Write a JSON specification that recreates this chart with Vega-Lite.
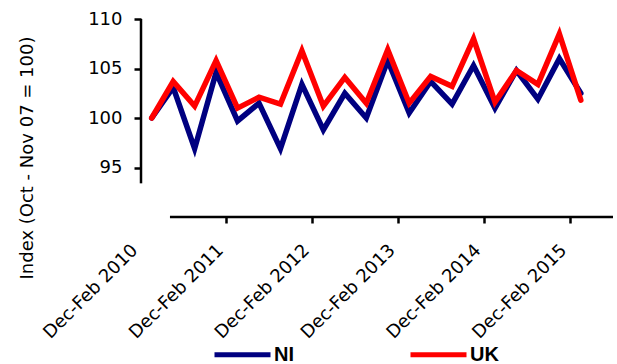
{
  "$schema": "https://vega.github.io/schema/vega-lite/v6.json",
  "width": 472,
  "height": 198,
  "autosize": {"type": "none"},
  "padding": {"left": 141, "top": 19, "right": 4, "bottom": 147},
  "background": "white",
  "config": {"view": {"stroke": null}, "font": "DejaVu Sans"},
  "layer": [
    {
      "data": {
        "values": [
          {"period": "Dec-Feb 2010", "region": "NI", "index": 100.0},
          {"period": "Mar-May 2010", "region": "NI", "index": 103.1},
          {"period": "Jun-Aug 2010", "region": "NI", "index": 96.9},
          {"period": "Sep-Nov 2010", "region": "NI", "index": 104.6},
          {"period": "Dec-Feb 2011", "region": "NI", "index": 99.7},
          {"period": "Mar-May 2011", "region": "NI", "index": 101.5},
          {"period": "Jun-Aug 2011", "region": "NI", "index": 96.9},
          {"period": "Sep-Nov 2011", "region": "NI", "index": 103.4},
          {"period": "Dec-Feb 2012", "region": "NI", "index": 98.8},
          {"period": "Mar-May 2012", "region": "NI", "index": 102.5},
          {"period": "Jun-Aug 2012", "region": "NI", "index": 100.0},
          {"period": "Sep-Nov 2012", "region": "NI", "index": 105.8},
          {"period": "Dec-Feb 2013", "region": "NI", "index": 100.5},
          {"period": "Mar-May 2013", "region": "NI", "index": 103.7},
          {"period": "Jun-Aug 2013", "region": "NI", "index": 101.4},
          {"period": "Sep-Nov 2013", "region": "NI", "index": 105.3},
          {"period": "Dec-Feb 2014", "region": "NI", "index": 101.0},
          {"period": "Mar-May 2014", "region": "NI", "index": 104.8},
          {"period": "Jun-Aug 2014", "region": "NI", "index": 101.9},
          {"period": "Sep-Nov 2014", "region": "NI", "index": 106.0},
          {"period": "Dec-Feb 2015", "region": "NI", "index": 102.5},
          {"period": "Dec-Feb 2010", "region": "UK", "index": 100.0},
          {"period": "Mar-May 2010", "region": "UK", "index": 103.7},
          {"period": "Jun-Aug 2010", "region": "UK", "index": 101.2},
          {"period": "Sep-Nov 2010", "region": "UK", "index": 105.8},
          {"period": "Dec-Feb 2011", "region": "UK", "index": 101.0},
          {"period": "Mar-May 2011", "region": "UK", "index": 102.1},
          {"period": "Jun-Aug 2011", "region": "UK", "index": 101.4},
          {"period": "Sep-Nov 2011", "region": "UK", "index": 106.8},
          {"period": "Dec-Feb 2012", "region": "UK", "index": 101.2},
          {"period": "Mar-May 2012", "region": "UK", "index": 104.1},
          {"period": "Jun-Aug 2012", "region": "UK", "index": 101.5},
          {"period": "Sep-Nov 2012", "region": "UK", "index": 106.9},
          {"period": "Dec-Feb 2013", "region": "UK", "index": 101.5},
          {"period": "Mar-May 2013", "region": "UK", "index": 104.2},
          {"period": "Jun-Aug 2013", "region": "UK", "index": 103.2},
          {"period": "Sep-Nov 2013", "region": "UK", "index": 108.0},
          {"period": "Dec-Feb 2014", "region": "UK", "index": 101.6},
          {"period": "Mar-May 2014", "region": "UK", "index": 104.8},
          {"period": "Jun-Aug 2014", "region": "UK", "index": 103.4},
          {"period": "Sep-Nov 2014", "region": "UK", "index": 108.5},
          {"period": "Dec-Feb 2015", "region": "UK", "index": 101.8}
        ]
      },
      "mark": {"type": "line", "strokeWidth": 5.5, "strokeCap": "round", "strokeJoin": "miter"},
      "encoding": {
        "x": {
          "field": "period",
          "type": "ordinal",
          "sort": null,
          "bandPosition": 0.5,
          "scale": {
            "type": "band",
            "paddingInner": 0,
            "paddingOuter": 0,
            "domain": [
              "Dec-Feb 2010", "Mar-May 2010", "Jun-Aug 2010", "Sep-Nov 2010",
              "Dec-Feb 2011", "Mar-May 2011", "Jun-Aug 2011", "Sep-Nov 2011",
              "Dec-Feb 2012", "Mar-May 2012", "Jun-Aug 2012", "Sep-Nov 2012",
              "Dec-Feb 2013", "Mar-May 2013", "Jun-Aug 2013", "Sep-Nov 2013",
              "Dec-Feb 2014", "Mar-May 2014", "Jun-Aug 2014", "Sep-Nov 2014",
              "Dec-Feb 2015", "Mar-May 2015"
            ]
          },
          "axis": {
            "title": null,
            "values": ["Dec-Feb 2010", "Dec-Feb 2011", "Dec-Feb 2012", "Dec-Feb 2013", "Dec-Feb 2014", "Dec-Feb 2015"],
            "bandPosition": 0,
            "domain": false,
            "grid": false,
            "tickSize": 6,
            "tickWidth": 2.5,
            "tickColor": "black",
            "tickOpacity": {"condition": {"test": "datum.value === 'Dec-Feb 2010'", "value": 0}, "value": 1},
            "labelAngle": -45,
            "labelAlign": "right",
            "labelBaseline": "top",
            "labelOffset": -23,
            "labelPadding": 18,
            "labelFont": "DejaVu Sans",
            "labelFontSize": 18,
            "labelColor": "black",
            "labelOverlap": false,
            "labelBound": false
          }
        },
        "y": {
          "field": "index",
          "type": "quantitative",
          "scale": {"domain": [90, 110], "nice": false, "zero": false},
          "axis": {
            "title": "Index (Oct - Nov 07 = 100)",
            "values": [95, 100, 105, 110],
            "domain": false,
            "grid": false,
            "tickSize": 7,
            "tickWidth": 2.5,
            "tickColor": "black",
            "labelPadding": 12,
            "labelFont": "DejaVu Sans",
            "labelFontSize": 18,
            "labelColor": "black",
            "titleFont": "DejaVu Sans",
            "titleFontSize": 18,
            "titleFontWeight": "normal",
            "titleColor": "black",
            "titleAngle": 270,
            "titleAlign": "center",
            "titleBaseline": "middle",
            "titleX": -114,
            "titleY": 138.5
          }
        },
        "color": {
          "field": "region",
          "type": "nominal",
          "scale": {"domain": ["NI", "UK"], "range": ["#000080", "#ff0000"]},
          "legend": {
            "title": null,
            "orient": "none",
            "direction": "horizontal",
            "legendX": 71,
            "legendY": 305,
            "padding": 0,
            "symbolType": "stroke",
            "symbolSize": 3136,
            "symbolStrokeWidth": 5,
            "labelOffset": 1,
            "columnPadding": 106,
            "labelFont": "Liberation Sans",
            "labelFontWeight": "bold",
            "labelFontSize": 20,
            "labelColor": "black",
            "labelBaseline": "middle"
          }
        }
      }
    },
    {
      "data": {"values": [{}]},
      "mark": {"type": "rule", "color": "black", "strokeWidth": 2.5},
      "encoding": {
        "x": {"datum": "Mar-May 2010", "type": "ordinal", "bandPosition": 0.35, "title": null},
        "x2": {"value": "width"},
        "y": {"datum": 90, "type": "quantitative", "title": null}
      }
    },
    {
      "data": {"values": [{}]},
      "mark": {"type": "rule", "color": "black", "strokeWidth": 2.5},
      "encoding": {
        "x": {"datum": "Dec-Feb 2010", "type": "ordinal", "bandPosition": 0, "title": null},
        "y": {"datum": 93.4, "type": "quantitative", "title": null},
        "y2": {"datum": 110}
      }
    }
  ]
}
